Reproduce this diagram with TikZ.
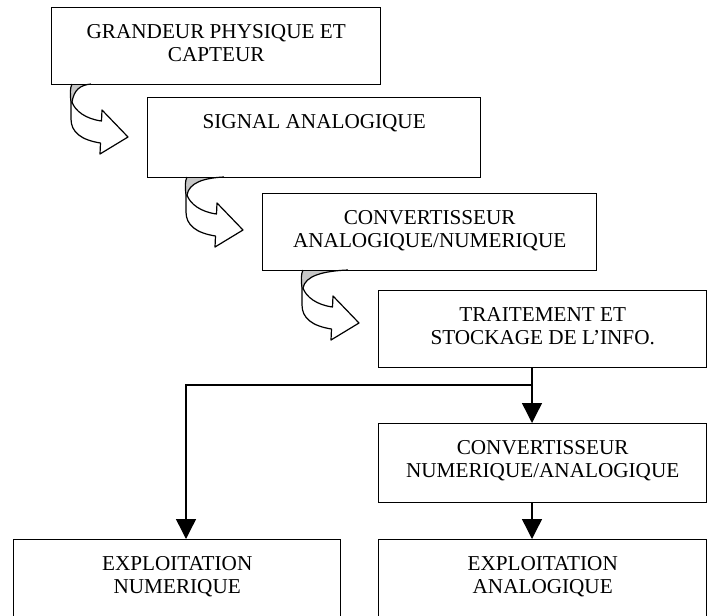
\documentclass[tikz,border=0pt]{standalone}
\usepackage{fontspec}
\setmainfont{Liberation Serif}
\usetikzlibrary{arrows.meta}
\newcommand\boxtxt[3]{\parbox[t][#2pt][t]{#1pt}{\centering\fontsize{21.2}{23}\selectfont\vspace*{15pt}\strut #3}}
\newcommand\curlarrow[3]{%
  \begin{scope}[shift={(#1,#2)}]
    \filldraw[curl, fill=white] (0,18) -- (0,35) .. controls (0,48) and (10,56) .. (29.5,59)
      -- (29,70) -- (57,53) -- (31,26) -- (30.5,37) .. controls (15,35) and (4,27) .. (1,18) -- cycle;
    \fill[gray!45] (1,0) -- (#3,0) .. controls ({0.45*#3},1) and (3,6) .. (1,18) -- (0,18) .. controls (-1,10) and (-1,4) .. (1,0) -- cycle;
    \draw[curl] (#3,0) .. controls ({0.45*#3},1) and (3,6) .. (1,18);
    \draw[curl] (1,0) .. controls (-1,4) and (-1,10) .. (0,18);
  \end{scope}}
\begin{document}
\begin{tikzpicture}[x=1pt,y=-1pt,
  box/.style={draw, line width=1.4pt, inner sep=0pt, anchor=north west},
  conn/.style={line width=1.4pt, -{Triangle[length=20pt,width=20pt]}},
  curl/.style={line width=1.2pt, line join=round}]
\useasboundingbox (0,0) rectangle (710,616);
\clip (0,0) rectangle (710,616);
\curlarrow{71}{84}{20}
\curlarrow{186}{177}{38}
\curlarrow{302}{270}{46}
\node[box] (b1) at (51,7) {\boxtxt{329}{77}{GRANDEUR PHYSIQUE ET\\CAPTEUR}};
\node[box] (b2) at (147,97) {\boxtxt{333}{80}{SIGNAL ANALOGIQUE}};
\node[box] (b3) at (262,193) {\boxtxt{334}{77}{CONVERTISSEUR\\ANALOGIQUE/NUMERIQUE}};
\node[box] (b4) at (378,290) {\boxtxt{328}{77}{TRAITEMENT ET\\STOCKAGE DE L’INFO.}};
\node[box] (b5) at (378,423) {\boxtxt{328}{79}{CONVERTISSEUR\\NUMERIQUE/ANALOGIQUE}};
\node[box] (b6) at (13,539) {\boxtxt{327}{100}{EXPLOITATION\\NUMERIQUE}};
\node[box] (b7) at (378,539) {\boxtxt{328}{100}{EXPLOITATION\\ANALOGIQUE}};
\coordinate (j) at (532,385);
\coordinate (k) at (186,385);
\draw[conn] (b4.south -| j) -- (b5.north -| j);
\draw[conn] (j) -- (k) -- (b6.north -| k);
\draw[conn] (b5.south -| j) -- (b7.north -| j);
\end{tikzpicture}
\end{document}
